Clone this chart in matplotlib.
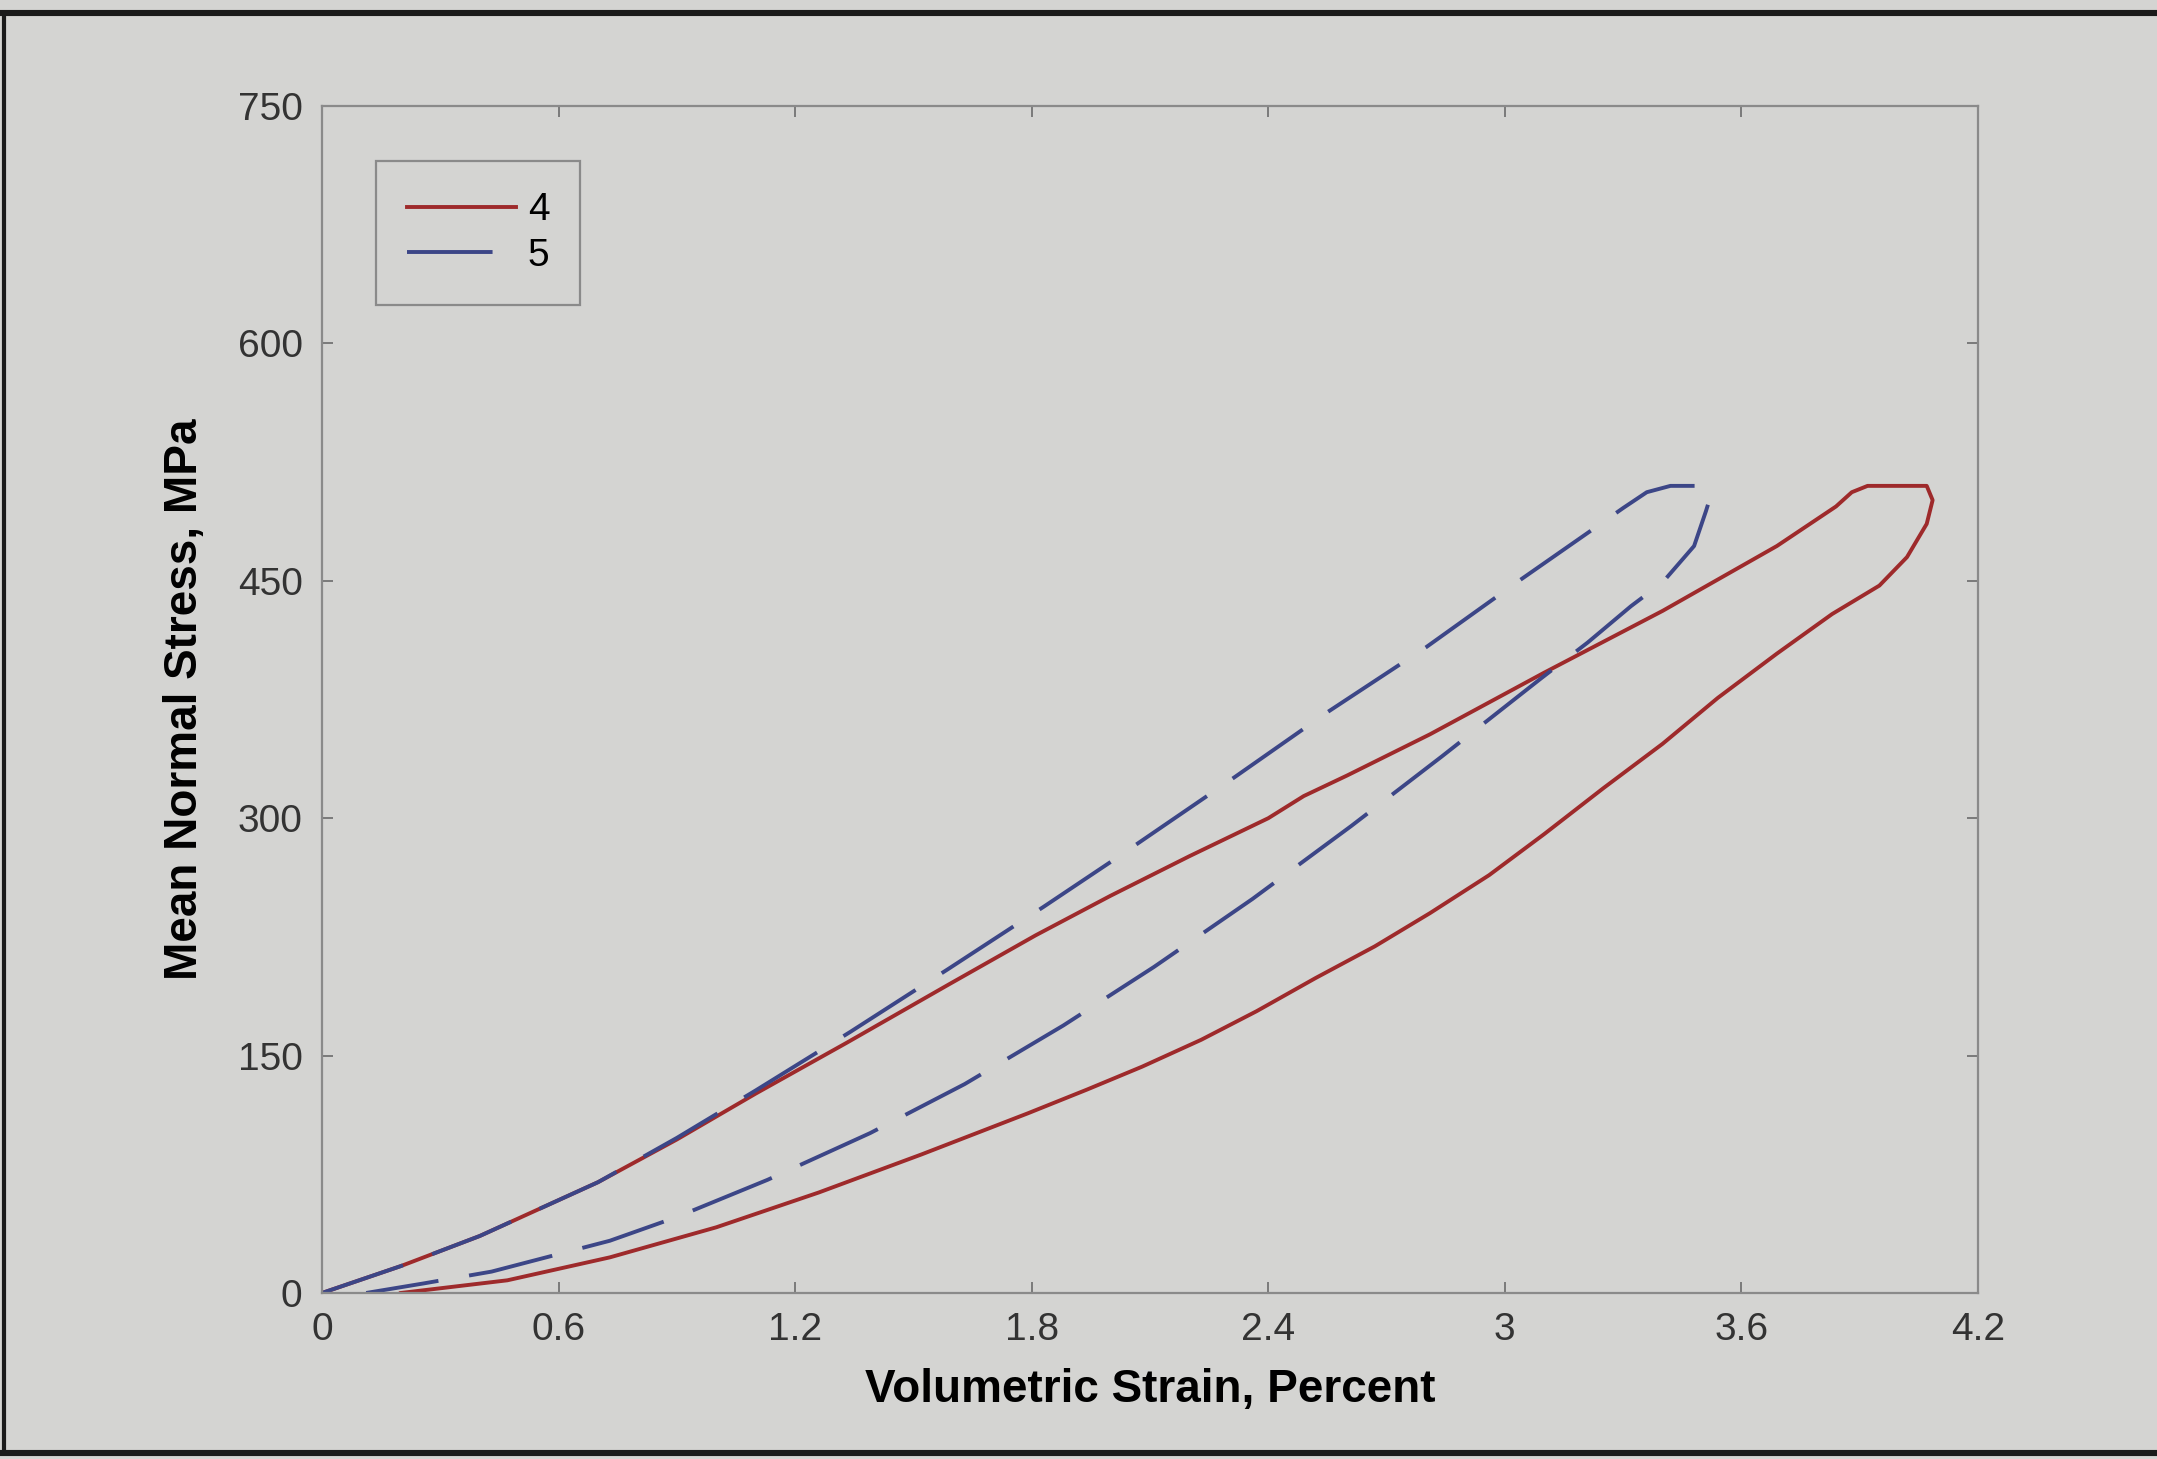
import matplotlib
matplotlib.use("Agg")
import matplotlib.pyplot as plt
from matplotlib.lines import Line2D

# specimen 4 (solid): loading, peak hold, unloading
strain_4 = [0, 0.2, 0.4, 0.7, 0.9, 1.1, 1.33, 1.59, 1.81, 2.0, 2.2, 2.4, 2.49,
            2.6, 2.81, 3.10, 3.40, 3.69, 3.84, 3.88, 3.92, 4.07, 4.085, 4.07, 4.02,
            3.95, 3.83, 3.69, 3.54, 3.40, 3.25, 3.10, 2.96, 2.81, 2.67, 2.52, 2.37,
            2.23, 2.08, 1.94, 1.79, 1.52, 1.26, 1.0, 0.73, 0.47, 0.2]
stress_4 = [0, 17, 36, 70, 97, 126, 158, 195, 226, 251, 276, 300, 314,
            327, 353, 392, 431, 472, 497, 506, 510, 510, 501, 486, 465,
            447, 429, 404, 376, 347, 319, 290, 264, 240, 219, 199, 178,
            160, 143, 128.5, 113.5, 87.5, 63.5, 41.5, 22.5, 8, 0]

# specimen 5 (dashed)
strain_5 = [0, 0.2, 0.4, 0.7, 0.9, 1.1, 1.34, 1.59, 1.83, 2.01, 2.315, 2.55, 2.80,
            3.03, 3.22, 3.30, 3.36, 3.42, 3.51, 3.52, 3.51, 3.48, 3.40, 3.32, 3.21,
            3.09, 2.84, 2.61, 2.36, 2.11, 1.88, 1.63, 1.39, 1.13, 0.90, 0.73, 0.43,
            0.257, 0.112]
stress_5 = [0, 17, 36, 70, 98, 128, 165, 205, 244, 274, 326, 367, 408,
            449, 482, 496, 506, 510, 510, 502, 494, 472, 449, 434, 411,
            388, 339, 295, 249, 206, 169, 132, 101, 71.5, 48, 33, 13.5,
            6, 0]

x_ticks = [0, 0.6, 1.2, 1.8, 2.4, 3.0, 3.6, 4.2]
x_tick_labels = ["0", "0.6", "1.2", "1.8", "2.4", "3", "3.6", "4.2"]
y_ticks = [0, 150, 300, 450, 600, 750]

bg = "#d4d4d2"
plt.rcParams["font.family"] = ["Liberation Sans", "DejaVu Sans"]

fig = plt.figure(figsize=(10.785, 7.295), dpi=200, facecolor=bg)
ax = fig.add_axes([0.1493, 0.1138, 0.917 - 0.1493, 0.9273 - 0.1138])
ax.set_facecolor(bg)

ax.plot(strain_4, stress_4, color="#9e2a2b", lw=1.4, label="4")
ax.plot(strain_5, stress_5, color="#3c4687", lw=1.4, dashes=[22, 8], label="5")

ax.set_xlim(0, 4.2)
ax.set_ylim(0, 750)
ax.set_xticks(x_ticks)
ax.set_xticklabels(x_tick_labels)
ax.set_yticks(y_ticks)
ax.tick_params(direction="in", length=4, width=0.7, color="#7a7a7a",
               top=True, right=True, labelsize=14, labelcolor="#333333", pad=7)
for s in ax.spines.values():
    s.set_color("#8a8a8a")
    s.set_linewidth(0.8)

ax.set_xlabel("Volumetric Strain, Percent", fontsize=16.5, fontweight="bold", labelpad=7)
ax.set_ylabel("Mean Normal Stress, MPa", fontsize=16.5, fontweight="bold", labelpad=11)

leg = ax.legend(loc="upper left", bbox_to_anchor=(0.0326, 0.9537), borderaxespad=0,
                fontsize=14, handlelength=2.8, fancybox=False, framealpha=1,
                facecolor=bg, edgecolor="#8a8a8a", borderpad=0.8, labelspacing=0.25,
                handletextpad=0.3)
leg.get_frame().set_linewidth(0.8)

# frame around the scanned figure (top, left, bottom)
fig.add_artist(Line2D([0, 1], [0.991, 0.991], color="#1a1a1a", lw=2.2, transform=fig.transFigure))
fig.add_artist(Line2D([0.002, 0.002], [0.004, 0.991], color="#1a1a1a", lw=1.5, transform=fig.transFigure))
fig.add_artist(Line2D([0, 1], [0.004, 0.004], color="#1a1a1a", lw=2.2, transform=fig.transFigure))

fig.savefig("out.png", dpi=200, facecolor=bg)
